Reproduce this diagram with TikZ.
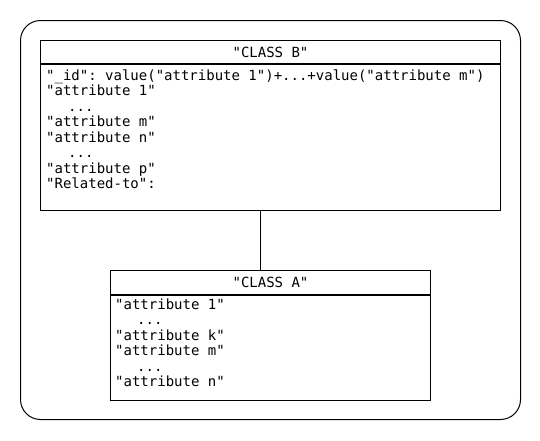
\documentclass[tikz,border=0pt]{standalone}
\usepackage{fontspec}
\setmonofont{DejaVu Sans Mono}
\usetikzlibrary{positioning}
\tikzset{
    umlbox/.style={draw, line width=1pt, inner sep=0pt, anchor=north west},
    umltext/.style={inner sep=0pt, anchor=base west, align=left,
        font=\ttfamily\fontsize{14}{15.5}\selectfont},
    umlhead/.style={umlbox, font=\ttfamily\fontsize{14}{15.5}\selectfont}
}
\newcommand{\skipdots}{\hspace*{22pt}...}

\begin{document}
\begin{tikzpicture}[x=1pt, y=-1pt]
    \useasboundingbox (0,0) rectangle (540,440);
    % outer frame
    \node[umlbox, rounded corners=20pt, minimum width=500pt, minimum height=399pt] (frame) at (20,20) {};
    % class B (anchored at the baseline of its last line)
    \node[umlhead, minimum width=460pt, minimum height=23pt] (headB) at (40,40) {"CLASS B"};
    \node[umlbox, minimum width=460pt, minimum height=146pt] (bodyB) at (headB.south west) {};
    \node[umltext] (textB) at (46,188.5) {"\_id": value("attribute 1")+...+value("attribute m")\\
        "attribute 1"\\
        \skipdots\\
        "attribute m"\\
        "attribute n"\\
        \skipdots\\
        "attribute p"\\
        "Related-to":};
    % class A
    \node[umlhead, minimum width=320pt, minimum height=24pt] (headA) at (110,270) {"CLASS A"};
    \node[umlbox, minimum width=320pt, minimum height=105pt] (bodyA) at (headA.south west) {};
    \node[umltext] (textA) at (115,386.5) {"attribute 1"\\
        \skipdots\\
        "attribute k"\\
        "attribute m"\\
        \skipdots\\
        "attribute n"};
    % relation
    \draw[line width=1pt] ([xshift=-10pt]bodyB.south) -- ([xshift=-10pt]headA.north);
\end{tikzpicture}
\end{document}
